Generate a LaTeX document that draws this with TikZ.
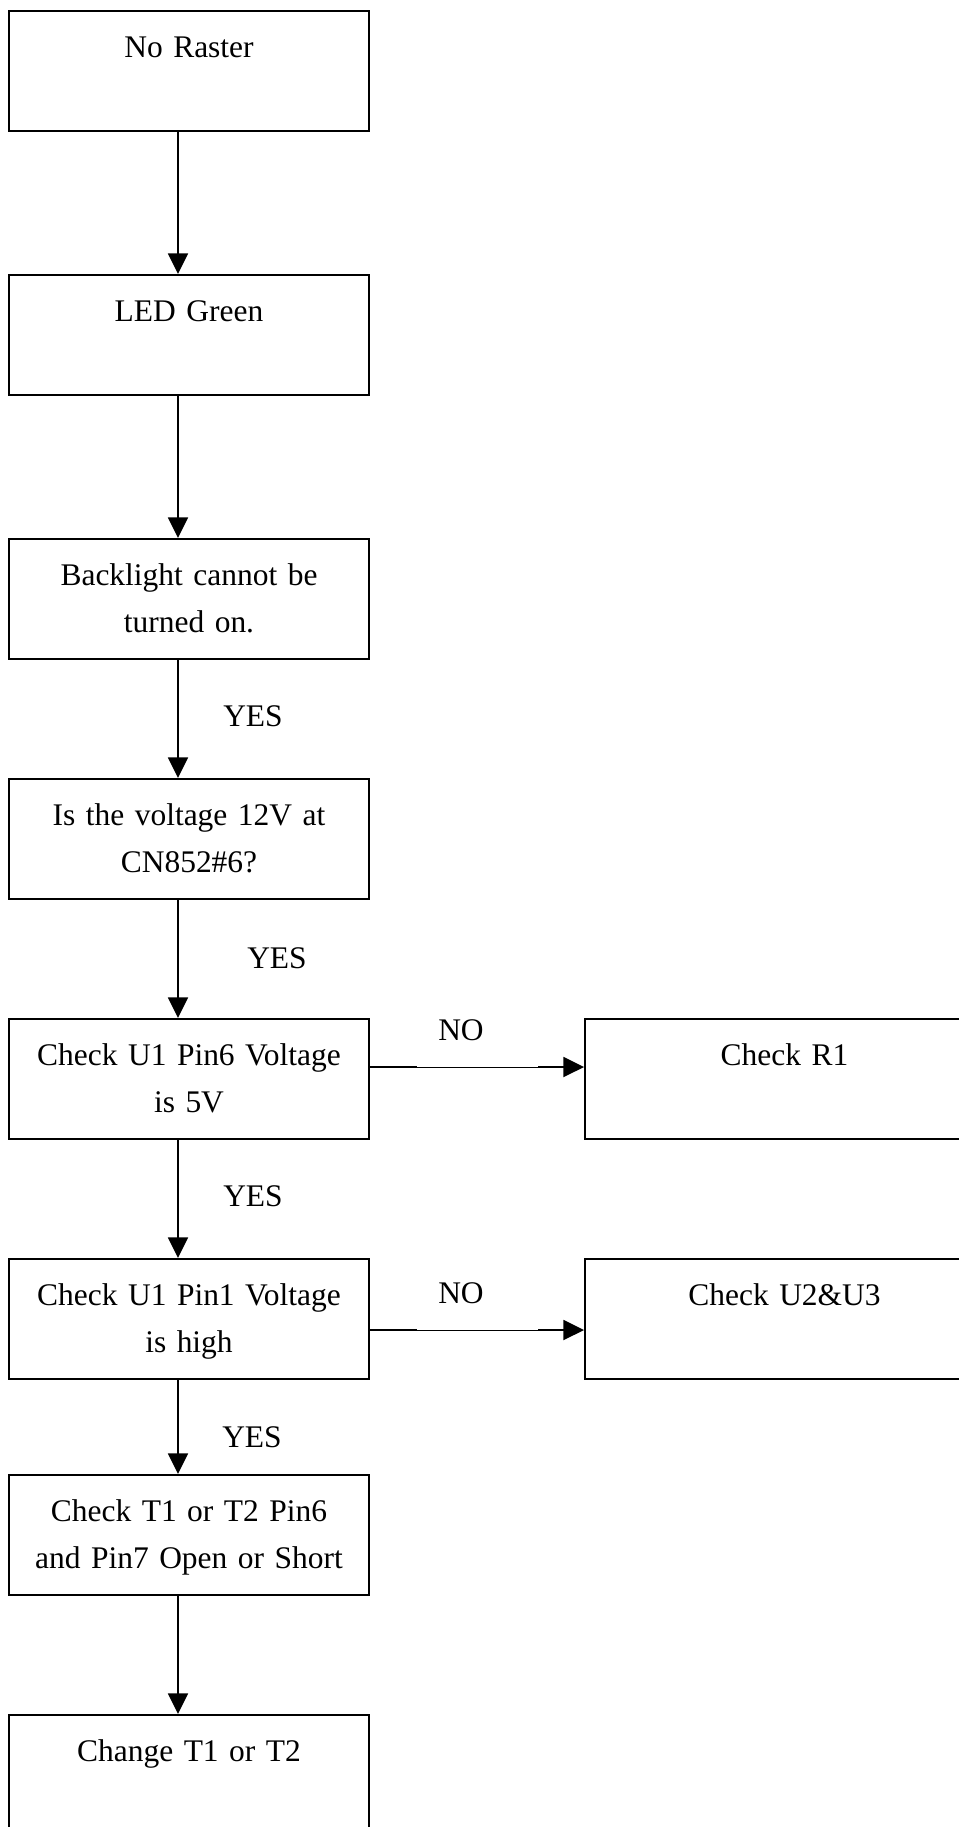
\documentclass[tikz,border=0pt]{standalone}
\usepackage{fontspec}
\setmainfont{Liberation Serif}
\usetikzlibrary{arrows.meta}
\newcommand{\flowfont}{\fontsize{23.6pt}{35.25pt}\selectfont}
\tikzset{
  box/.style={draw, line width=1.4pt, inner xsep=0pt, inner ysep=0pt, minimum width=270pt,
    text width=250pt, align=center, text height=35.25pt, text depth=54.75pt, anchor=north, font=\flowfont},
  wide/.style={minimum width=299.25pt},
  tag/.style={fill=white, inner xsep=15.75pt, inner ysep=0pt, text width=59.25pt, align=left,
    text height=22.5pt, text depth=19.5pt, anchor=south west, font=\flowfont},
  link/.style={->, line width=1.4pt},
}

\begin{document}
\begin{tikzpicture}[x=0.75pt, y=-0.75pt, >={Triangle[length=15.5pt,width=15pt]}]
                \clip (0,0) rectangle (959,1827);
                \node[box] (start) at (189,10) {No Raster};
                \node[box] (led) at (189,274) {LED Green};
                \node[box] (blight) at (189,538) {Backlight cannot be\\turned on.};
                \node[box] (v12) at (189,778) {Is the voltage 12V at\\CN852\#6?};
                \node[box] (pin6) at (189,1018) {Check U1 Pin6 Voltage\\is 5V};
                \node[box] (pin1) at (189,1258) {Check U1 Pin1 Voltage\\is high};
                \node[box] (tpin) at (189,1474) {Check T1 or T2 Pin6\\and Pin7 Open or Short};
                \node[box] (change) at (189,1714) {Change T1 or T2};
                \node[box, wide] (r1) at (784.5,1018) {Check R1};
                \node[box, wide] (u23) at (784.5,1258) {Check U2\&U3};
                \coordinate (ax) at (178,0);
                \coordinate (no1) at (0,1067);
                \coordinate (no2) at (0,1330);
                \draw[link] (start.south -| ax) -- (led.north -| ax);
                \draw[link] (led.south -| ax) -- (blight.north -| ax);
                \draw[link] (blight.south -| ax) -- (v12.north -| ax);
                \draw[link] (v12.south -| ax) -- (pin6.north -| ax);
                \draw[link] (pin6.south -| ax) -- (pin1.north -| ax);
                \draw[link] (pin1.south -| ax) -- (tpin.north -| ax);
                \draw[link] (tpin.south -| ax) -- (change.north -| ax);
                \draw[link] (pin6.east |- no1) -- (r1.west |- no1);
                \draw[link] (pin1.east |- no2) -- (u23.west |- no2);
                \node[tag] (yes1) at (202,753) {YES};
                \node[tag] (yes2) at (226,995) {YES};
                \node[tag] (yes3) at (202,1233) {YES};
                \node[tag] (yes4) at (201,1474) {YES};
                \node[tag] (nolab1) at (417,1067) {NO};
                \node[tag] (nolab2) at (417,1330) {NO};
            \end{tikzpicture}
\end{document}
